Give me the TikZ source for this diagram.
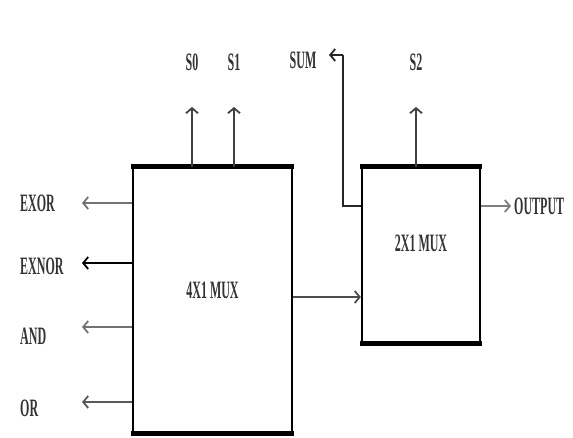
\documentclass[tikz,border=0pt]{standalone}
\usepackage{fontspec}
\setmainfont{Liberation Serif}
\usetikzlibrary{arrows.meta}
\newcommand{\lbl}[1]{\scalebox{0.48}[1]{\fontsize{25}{25}\selectfont\bfseries #1}}
\begin{document}
\begin{tikzpicture}[x=1pt,y=-1pt,
  box/.style={draw,line width=2.2pt,inner sep=0pt,fill=white},
  thickedge/.style={line width=5pt},
  arr/.style={line width=2.2pt,-{Straight Barb[length=5pt,width=12pt,line width=1.8pt]}},
  wire/.style={line width=2.4pt},
  txt/.style={inner sep=0pt,text=black!80}]
\useasboundingbox (0,0) rectangle (573,437);
% boxes
\node[box,minimum width=159pt,minimum height=264pt] (mux4) at (212.5,300) {};
\node[txt] at (mux4.center) [yshift=10pt] {\lbl{4X1 MUX}};
\node[box,minimum width=118pt,minimum height=174pt] (mux2) at (421,255) {};
\node[txt] at (mux2.center) [yshift=12pt] {\lbl{2X1 MUX}};
\draw[thickedge] ([xshift=-1.1pt]mux4.north west) -- ([xshift=1.1pt]mux4.north east);
\draw[thickedge] ([xshift=-1.1pt]mux4.south west) -- ([xshift=1.1pt]mux4.south east);
\draw[thickedge] ([xshift=-1.1pt]mux2.north west) -- ([xshift=1.1pt]mux2.north east);
\draw[thickedge] ([xshift=-1.1pt]mux2.south west) -- ([xshift=1.1pt]mux2.south east);
% left labels and arrows
\node[txt,anchor=west] (exor) at (20,203) {\lbl{EXOR}};
\node[txt,anchor=west] (exnor) at (20,266) {\lbl{EXNOR}};
\node[txt,anchor=west] (and) at (20,336) {\lbl{AND}};
\node[txt,anchor=west] (or) at (20,408) {\lbl{OR}};
\coordinate (texor) at (82,203);
\coordinate (texnor) at (82,263);
\coordinate (tand) at (82,327);
\coordinate (tor) at (82,402);
\draw[arr,black!55] (mux4.west |- texor) -- (texor);
\draw[arr,black] (mux4.west |- texnor) -- (texnor);
\draw[arr,black!55] (mux4.west |- tand) -- (tand);
\draw[arr,black!65] (mux4.west |- tor) -- (tor);
% select lines
\node[txt] (s0) at (192,62) {\lbl{S0}};
\node[txt] (s1) at (234,62) {\lbl{S1}};
\node[txt] (s2) at (416,62) {\lbl{S2}};
\coordinate (ts0) at (192,107);
\coordinate (ts1) at (234,107);
\coordinate (ts2) at (416,107);
\draw[arr,black!75] (mux4.north -| ts0) -- (ts0);
\draw[arr,black!75] (mux4.north -| ts1) -- (ts1);
\draw[arr,black!75] (mux2.north -| ts2) -- (ts2);
% SUM
\node[txt] (sum) at (303,60) {\lbl{SUM}};
\coordinate (sumbend) at (343,206);
\coordinate (sumtop) at (343,55);
\coordinate (tsum) at (329,55);
\draw[wire,black!85] (mux2.west |- sumbend) -- (sumbend) -- (sumtop);
\draw[arr,black!85] (sumtop) -- (tsum);
% middle connection
\coordinate (mid) at (292,297);
\draw[arr,black!70] (mux4.east |- mid) -- (mux2.west |- mid);
% output
\node[txt,anchor=west] (out) at (514,206) {\lbl{OUTPUT}};
\coordinate (tout) at (511,206);
\draw[arr,black!50] (mux2.east |- tout) -- (tout);
\end{tikzpicture}
\end{document}
